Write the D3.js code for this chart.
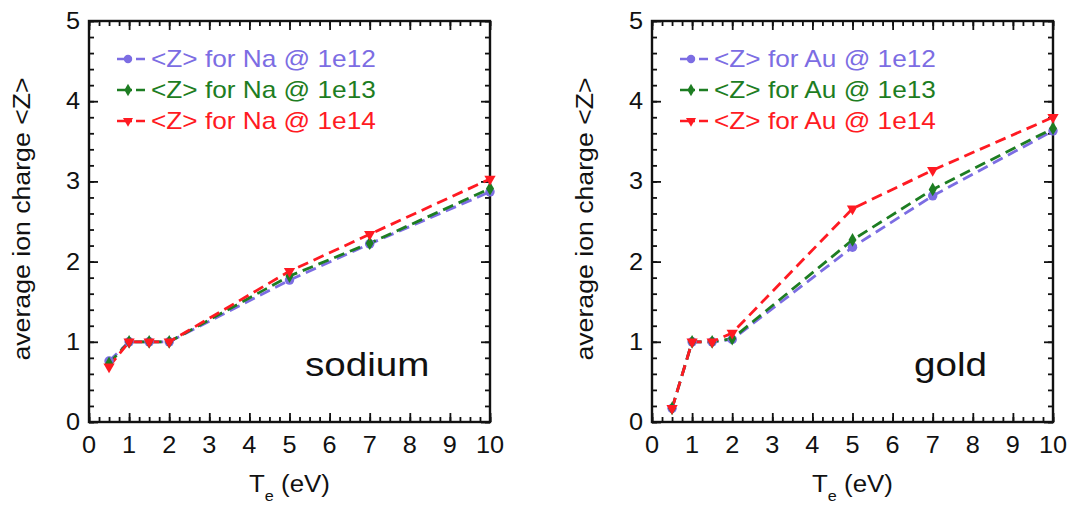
<!DOCTYPE html>
<html>
<head>
<meta charset="utf-8">
<script src="https://cdn.jsdelivr.net/npm/d3@7/dist/d3.min.js"></script>
<style>
  html, body { margin: 0; padding: 0; background: #ffffff; }
  svg { display: block; }
  text { font-family: "Liberation Sans", Arial, Helvetica, sans-serif; }
</style>
</head>
<body>
<svg id="chart" width="1073" height="510"></svg>
<script>
// ---------------- data ----------------
const temperatures = [0.5, 1, 1.5, 2, 5, 7, 10];           // T_e (eV)

const naZ1e12 = [0.76, 1.00, 1.00, 1.00, 1.77, 2.22, 2.87];
const naZ1e13 = [0.73, 1.00, 1.00, 1.00, 1.82, 2.23, 2.91];
const naZ1e14 = [0.69, 1.00, 1.00, 1.00, 1.88, 2.34, 3.03];

const auZ1e12 = [0.17, 1.00, 1.00, 1.03, 2.18, 2.82, 3.63];
const auZ1e13 = [0.17, 1.00, 1.00, 1.04, 2.27, 2.90, 3.66];
const auZ1e14 = [0.17, 1.00, 1.00, 1.11, 2.66, 3.14, 3.80];

const naLabels = ["<Z> for Na @ 1e12", "<Z> for Na @ 1e13", "<Z> for Na @ 1e14"];
const auLabels = ["<Z> for Au @ 1e12", "<Z> for Au @ 1e13", "<Z> for Au @ 1e14"];

const xTickValues = [0, 1, 2, 3, 4, 5, 6, 7, 8, 9, 10];
const yTickValues = [0, 1, 2, 3, 4, 5];
const panelNames = ["sodium", "gold"];
const yTitle = "average ion charge <Z>";

// ---------------- styling ----------------
const colors = ["#7c6de3", "#1d7d22", "#ff1a22"];
const symbols = [d3.symbolCircle, d3.symbolDiamond, d3.symbolTriangle];
const symSizes = [70, 55, 55];

const svg = d3.select("#chart");

function stretchedText(g, x, y, str, size, anchor, sx, rot) {
  return g.append("text")
    .attr("transform", `translate(${x},${y})` + (rot ? ` rotate(${rot})` : "") + ` scale(${sx},1)`)
    .attr("font-size", size)
    .attr("text-anchor", anchor)
    .text(str);
}

function panel(opt) {
  const g = svg.append("g");
  const x = d3.scaleLinear().domain([0, 10]).range([opt.left, opt.left + 401]);
  const y = d3.scaleLinear().domain([0, 5]).range([422, 21]);

  // ticks (inward, all four sides)
  const xMinor = d3.range(0, 10.001, 0.25);
  const yMinor = d3.range(0, 5.001, 0.2);
  const mk = (axisFn, scale, vals, len) => axisFn(scale).tickValues(vals).tickSize(-len).tickFormat("");
  const addAxis = (ax, tr) => {
    const a = g.append("g").attr("transform", tr).call(ax);
    a.select(".domain").remove();
    a.selectAll("line").attr("stroke", "#111").attr("stroke-width", 1.8);
  };
  addAxis(mk(d3.axisBottom, x, xMinor, 5), "translate(0,422)");
  addAxis(mk(d3.axisBottom, x, xTickValues, 9), "translate(0,422)");
  addAxis(mk(d3.axisTop, x, xMinor, 5), "translate(0,21)");
  addAxis(mk(d3.axisTop, x, xTickValues, 9), "translate(0,21)");
  addAxis(mk(d3.axisLeft, y, yMinor, 5), `translate(${opt.left},0)`);
  addAxis(mk(d3.axisLeft, y, yTickValues, 9), `translate(${opt.left},0)`);
  addAxis(mk(d3.axisRight, y, yMinor, 5), `translate(${opt.left + 401},0)`);
  addAxis(mk(d3.axisRight, y, yTickValues, 9), `translate(${opt.left + 401},0)`);

  // frame
  g.append("rect")
    .attr("x", x(0)).attr("y", y(5))
    .attr("width", x(10) - x(0)).attr("height", y(0) - y(5))
    .attr("fill", "none").attr("stroke", "#111").attr("stroke-width", 2.4);

  // tick labels
  xTickValues.forEach(v => stretchedText(g, x(v), 453, String(v), 23, "middle", 1.1).attr("fill", "#111"));
  yTickValues.forEach(v => stretchedText(g, opt.left - 9, y(v) + 8, String(v), 23, "end", 1.1).attr("fill", "#111"));

  // x title  T_e (eV)
  const xt = g.append("text")
    .attr("transform", `translate(${x(5)},492) scale(1.08,1)`)
    .attr("font-size", 24).attr("text-anchor", "middle").attr("fill", "#111");
  xt.append("tspan").text("T");
  xt.append("tspan").attr("font-size", 15).attr("dy", 9).text("e");
  xt.append("tspan").attr("dy", -9).text(" (eV)");

  // y title
  stretchedText(g, opt.titleX, 219, yTitle, 23, "middle", 1.16, -90).attr("fill", "#111");

  // series
  const line = d3.line().x((d, i) => x(temperatures[i])).y(d => y(d));
  opt.series.forEach((s, k) => {
    g.append("path").datum(s)
      .attr("d", line)
      .attr("fill", "none")
      .attr("stroke", colors[k])
      .attr("stroke-width", 2.8)
      .attr("stroke-dasharray", "11,6");
  });
  opt.series.forEach((s, k) => {
    g.selectAll(null).data(s).enter().append("path")
      .attr("d", d3.symbol().type(symbols[k]).size(symSizes[k]))
      .attr("transform", (d, i) => `translate(${x(temperatures[i])},${y(d)})` + (k === 2 ? " rotate(180)" : ""))
      .attr("fill", colors[k]);
  });

  // legend
  opt.labels.forEach((lab, k) => {
    const by = 67 + k * 31;
    const ly = by - 8;
    g.append("line")
      .attr("x1", opt.left + 28).attr("x2", opt.left + 59)
      .attr("y1", ly).attr("y2", ly)
      .attr("stroke", colors[k]).attr("stroke-width", 2.6)
      .attr("stroke-dasharray", "15,4,9");
    g.append("path")
      .attr("d", d3.symbol().type(symbols[k]).size(symSizes[k] * 0.8))
      .attr("transform", `translate(${opt.left + 39},${ly})` + (k === 2 ? " rotate(180)" : ""))
      .attr("fill", colors[k]);
    stretchedText(g, opt.left + 62, by, lab, 23, "start", 1.14).attr("fill", colors[k]);
  });

  // panel name
  stretchedText(g, opt.nameX, 376, opt.name, 33, "start", 1.17).attr("fill", "#111");
}

panel({ left: 89, series: [naZ1e12, naZ1e13, naZ1e14], labels: naLabels,
        name: panelNames[0], nameX: 305, titleX: 30 });
panel({ left: 652, series: [auZ1e12, auZ1e13, auZ1e14], labels: auLabels,
        name: panelNames[1], nameX: 914, titleX: 593 });
</script>
</body>
</html>
